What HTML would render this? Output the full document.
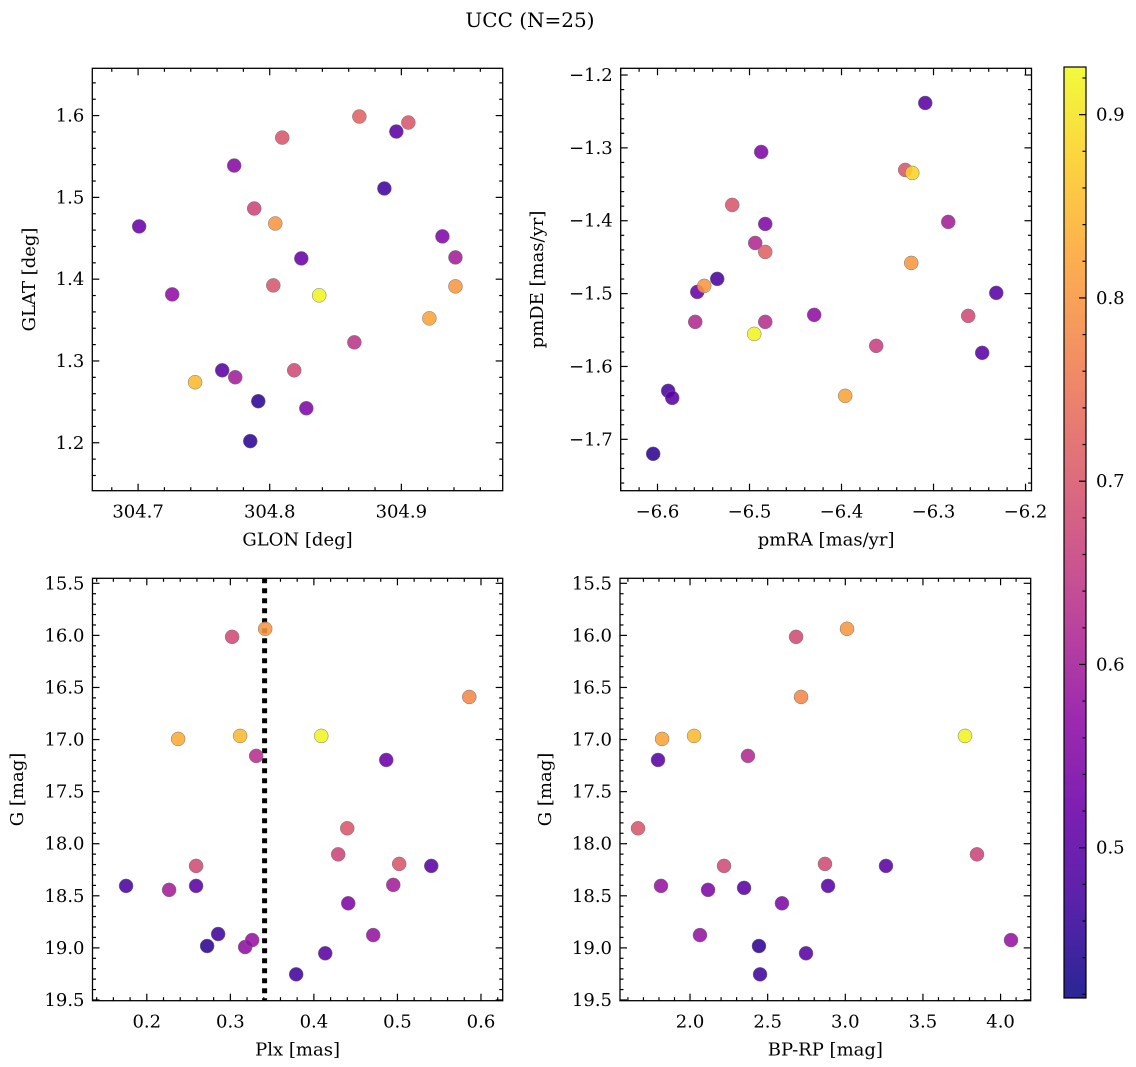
<!DOCTYPE html>
<html><head><meta charset="utf-8">
<style>
html,body{margin:0;padding:0;background:#fff;}
svg{display:block;font-family:"DejaVu Serif","Liberation Serif",serif;}
</style></head>
<body>
<svg id="fig" width="1136" height="1067" viewBox="0 0 1136 1067" xmlns="http://www.w3.org/2000/svg">
<text x="530" y="27" font-size="20" text-anchor="middle">UCC (N=25)</text>
</svg>
<script>
// ---- Panel 1 data: GLON vs GLAT ----
const p1Glon = [304.7008,304.7259,304.7433,304.7639,304.7730,304.7738,304.7913,304.7852,304.7882,304.8042,304.8027,304.8095,304.8240,304.8186,304.8278,304.8376,304.8643,304.8681,304.8871,304.8962,304.9053,304.9213,304.9312,304.9411,304.9411];
const p1Glat = [1.4645,1.3814,1.2740,1.2886,1.5389,1.2801,1.2508,1.2020,1.4864,1.4681,1.3924,1.5731,1.4254,1.2886,1.2422,1.3802,1.3228,1.5988,1.5109,1.5805,1.5915,1.3521,1.4523,1.3912,1.4266];
const p1Col  = [0.52,0.57,0.85,0.50,0.56,0.60,0.45,0.45,0.67,0.80,0.70,0.70,0.52,0.68,0.55,0.92,0.64,0.72,0.47,0.50,0.70,0.82,0.55,0.80,0.60];
// ---- Panel 2 data: pmRA vs pmDE ----
const p2PmRA = [-6.6047,-6.5884,-6.5840,-6.5568,-6.5590,-6.5492,-6.5351,-6.5188,-6.4938,-6.4949,-6.4829,-6.4873,-6.4829,-6.4829,-6.4297,-6.3960,-6.3623,-6.3308,-6.3231,-6.3242,-6.3090,-6.2840,-6.2623,-6.2471,-6.2318];
const p2PmDE = [-1.7199,-1.6335,-1.6431,-1.4977,-1.5388,-1.4894,-1.4798,-1.3783,-1.4305,-1.5553,-1.4428,-1.3056,-1.4044,-1.5388,-1.5292,-1.6403,-1.5717,-1.3303,-1.3344,-1.4579,-1.2384,-1.4016,-1.5306,-1.5813,-1.4990];
const p2Col  = [0.45,0.48,0.50,0.52,0.62,0.80,0.48,0.70,0.62,0.92,0.72,0.55,0.55,0.63,0.57,0.82,0.66,0.70,0.88,0.80,0.50,0.60,0.68,0.50,0.50];
// ---- Panel 3 data: Plx vs G ----
const p3Plx = [0.1752,0.2267,0.2375,0.2590,0.2722,0.2854,0.2590,0.3021,0.3117,0.3309,0.3177,0.3261,0.3417,0.3788,0.4088,0.4136,0.4291,0.4399,0.4411,0.4710,0.4866,0.4950,0.5021,0.5405,0.5860];
const p3G   = [18.405,18.443,16.994,18.405,18.982,18.867,18.213,16.014,16.965,17.157,18.992,18.925,15.937,19.254,16.965,19.052,18.102,17.852,18.572,18.877,17.196,18.395,18.194,18.213,16.591];
const p3Col = [0.48,0.60,0.83,0.50,0.45,0.47,0.68,0.68,0.85,0.63,0.57,0.58,0.80,0.47,0.92,0.50,0.67,0.70,0.55,0.58,0.52,0.60,0.70,0.50,0.78];
const plxLine = 0.341;
// ---- Panel 4 data: BP-RP vs G ----
const p4BpRp = [1.665,1.794,1.820,1.813,2.026,2.064,2.116,2.219,2.348,2.373,2.444,2.451,2.592,2.683,2.715,2.747,2.869,2.889,3.011,3.262,3.771,3.848,4.067];
const p4G    = [17.852,17.196,16.994,18.405,16.965,18.877,18.443,18.213,18.424,17.157,18.982,19.254,18.572,16.014,16.591,19.052,18.194,18.405,15.937,18.213,16.965,18.102,18.925];
const p4Col  = [0.70,0.50,0.82,0.58,0.85,0.58,0.55,0.68,0.50,0.62,0.45,0.47,0.55,0.68,0.78,0.50,0.68,0.50,0.80,0.50,0.92,0.67,0.58];
// ---- tick labels ----
const p1XTicks = [304.7,304.8,304.9];
const p1YTicks = [1.2,1.3,1.4,1.5,1.6];
const p2XTicks = [-6.6,-6.5,-6.4,-6.3,-6.2];
const p2YTicks = [-1.7,-1.6,-1.5,-1.4,-1.3,-1.2];
const p3XTicks = [0.2,0.3,0.4,0.5,0.6];
const gTicks = [15.5,16.0,16.5,17.0,17.5,18.0,18.5,19.0,19.5];
const p4XTicks = [2.0,2.5,3.0,3.5,4.0];
const cbTicks = [0.5,0.6,0.7,0.8,0.9];

const NS = "http://www.w3.org/2000/svg";
const svg = document.getElementById('fig');
const vmin = 0.418, vmax = 0.926;
const FS = 18;
const stops = ["#0d0887","#41049d","#6a00a8","#8f0da4","#b12a90","#cc4778","#e16462","#f2844b","#fca636","#fcce25","#f0f921"];
function hex(h){return [parseInt(h.substr(1,2),16),parseInt(h.substr(3,2),16),parseInt(h.substr(5,2),16)];}
function plasma(t){t=Math.max(0,Math.min(1,t));const f=t*10,i=Math.min(9,Math.floor(f)),u=f-i;const a=hex(stops[i]),b=hex(stops[i+1]);
  return "rgb("+a.map((v,k)=>Math.round(v+(b[k]-v)*u)).join(",")+")";}
function el(tag,attrs,parent){const e=document.createElementNS(NS,tag);for(const k in attrs)e.setAttribute(k,attrs[k]);(parent||svg).appendChild(e);return e;}
function fmt(v,d){return (v<0?"\u2212":"")+Math.abs(v).toFixed(d);}

function panel(o){
  const g=el('g',{});
  
  
  const sx=v=>o.L+(v-o.x0)/(o.x1-o.x0)*(o.R-o.L);
  const sy=o.inv ? (v=>o.T+(v-o.y0)/(o.y1-o.y0)*(o.B-o.T)) : (v=>o.B-(v-o.y0)/(o.y1-o.y0)*(o.B-o.T));
  const tk=el('g',{stroke:'#000','stroke-width':1.2},g);
  
  
  const xlo=Math.min(o.x0,o.x1), xhi=Math.max(o.x0,o.x1), ylo=Math.min(o.y0,o.y1), yhi=Math.max(o.y0,o.y1);
  for(let k=Math.ceil(xlo/o.xmin-1e-6);k*o.xmin<=xhi+1e-9;k++){
    const v=k*o.xmin, x=sx(v); const maj=Math.abs(v/o.xmaj-Math.round(v/o.xmaj))<1e-4; const len=maj?7:3.5;
    el('line',{x1:x,x2:x,y1:o.B,y2:o.B-len},tk); el('line',{x1:x,x2:x,y1:o.T,y2:o.T+len},tk);
  }
  for(let k=Math.ceil(ylo/o.ymin-1e-6);k*o.ymin<=yhi+1e-9;k++){
    const v=k*o.ymin, y=sy(v); const maj=Math.abs(v/o.ymaj-Math.round(v/o.ymaj))<1e-4; const len=maj?7:3.5;
    el('line',{x1:o.L,x2:o.L+len,y1:y,y2:y},tk); el('line',{x1:o.R,x2:o.R-len,y1:y,y2:y},tk);
  }
  o.xt.forEach(v=>{const t=el('text',{x:sx(v),y:o.B+27,'font-size':FS,'text-anchor':'middle'},g);t.textContent=fmt(v,o.xd);
    
    });
  o.yt.forEach(v=>{const t=el('text',{x:o.L-8,y:sy(v)+6,'font-size':FS,'text-anchor':'end'},g);t.textContent=fmt(v,o.yd);
    
    });
  const xl=el('text',{x:(o.L+o.R)/2,y:o.B+55,'font-size':FS,'text-anchor':'middle'},g);xl.textContent=o.xlab;
  
  
  const yl=el('text',{x:0,y:0,'font-size':FS,'text-anchor':'middle',transform:`translate(${o.ylx},${(o.T+o.B)/2}) rotate(-90)`},g);yl.textContent=o.ylab;
  
  
  if(o.vline!==undefined){const l=el('line',{x1:sx(o.vline),x2:sx(o.vline),y1:o.T,y2:o.B,stroke:'#000','stroke-width':5,'stroke-dasharray':'5,5'},g);
    
    }
  o.xs.forEach((v,i)=>{const c=el('circle',{cx:sx(v),cy:sy(o.ys[i]),r:7,fill:plasma((o.cs[i]-vmin)/(vmax-vmin)),'fill-opacity':0.88,stroke:'#777','stroke-width':0.5},g);
    
    });
  const fr=el('rect',{x:o.L,y:o.T,width:o.R-o.L,height:o.B-o.T,fill:'none',stroke:'#000','stroke-width':1.3},g);
  
  
}

panel({name:'glon-glat-panel',L:92.3,R:502.7,T:68.3,B:490.7,x0:304.6652,x1:304.977,y0:1.1414,y1:1.6578,
  xmaj:0.1,xmin:0.02,ymaj:0.1,ymin:0.02,xt:p1XTicks,yt:p1YTicks,xd:1,yd:1,xlab:'GLON [deg]',ylab:'GLAT [deg]',ylx:35,xs:p1Glon,ys:p1Glat,cs:p1Col});
panel({name:'pm-panel',L:620.7,R:1031.5,T:68.3,B:490.7,x0:-6.640,x1:-6.1935,y0:-1.7705,y1:-1.1908,
  xmaj:0.1,xmin:0.02,ymaj:0.1,ymin:0.02,xt:p2XTicks,yt:p2YTicks,xd:1,yd:1,xlab:'pmRA [mas/yr]',ylab:'pmDE [mas/yr]',ylx:543,xs:p2PmRA,ys:p2PmDE,cs:p2Col});
panel({name:'plx-g-panel',L:92.5,R:502.7,T:578.3,B:1000.7,x0:0.135,x1:0.626,y0:15.452,y1:19.507,inv:true,
  xmaj:0.1,xmin:0.02,ymaj:0.5,ymin:0.1,xt:p3XTicks,yt:gTicks,xd:1,yd:1,xlab:'Plx [mas]',ylab:'G [mag]',ylx:23,xs:p3Plx,ys:p3G,cs:p3Col,vline:plxLine});
panel({name:'cmd-panel',L:620,R:1030.7,T:578.3,B:1000.7,x0:1.549,x1:4.194,y0:15.452,y1:19.507,inv:true,
  xmaj:0.5,xmin:0.1,ymaj:0.5,ymin:0.1,xt:p4XTicks,yt:gTicks,xd:1,yd:1,xlab:'BP-RP [mag]',ylab:'G [mag]',ylx:551,xs:p4BpRp,ys:p4G,cs:p4Col});

// colorbar
const cb=el('g',{});


const cT=67,cB=998,cL=1064,cR=1086;
const defs=el('defs',{},cb);
const lg=el('linearGradient',{id:'cbg',x1:0,y1:1,x2:0,y2:0},defs);
for(let i=0;i<=20;i++){el('stop',{offset:i/20,'stop-color':plasma(i/20),'stop-opacity':0.88},lg);}
el('rect',{x:cL,y:cT,width:cR-cL,height:cB-cT,fill:'url(#cbg)',stroke:'#000','stroke-width':1.2},cb);
const cy=v=>cB-(v-vmin)/(vmax-vmin)*(cB-cT);
for(let k=Math.ceil(vmin/0.02);k*0.02<=vmax;k++){const v=k*0.02,y=cy(v);const maj=Math.abs(v*10-Math.round(v*10))<1e-4;
  el('line',{x1:cR,x2:cR-(maj?7:3.5),y1:y,y2:y,stroke:'#000','stroke-width':1.2},cb);}
cbTicks.forEach(v=>{const t=el('text',{x:cR+10,y:cy(v)+6,'font-size':FS},cb);t.textContent=v.toFixed(1);
  
  });
</script>
</body></html>
